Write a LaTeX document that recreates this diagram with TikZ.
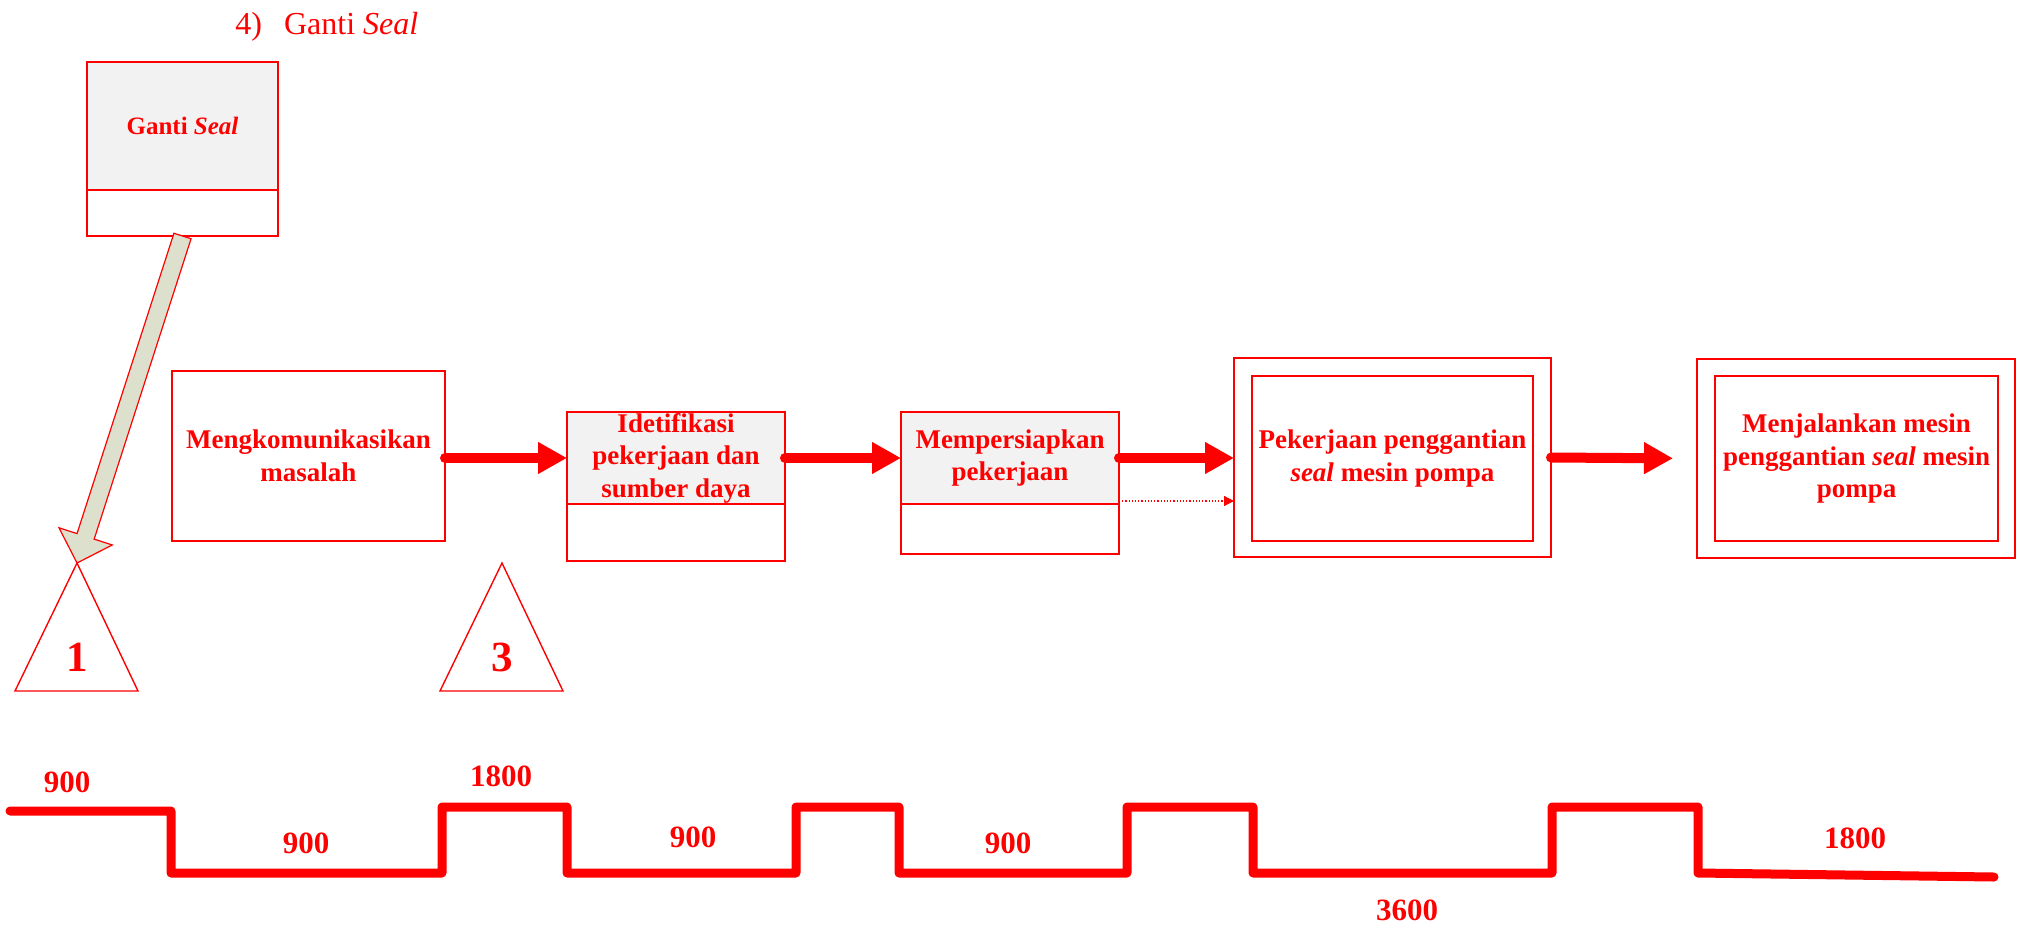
\documentclass[tikz,border=0pt]{standalone}
\usepackage{fontspec}
\setmainfont{Liberation Serif}
\usetikzlibrary{arrows.meta,calc}
\definecolor{pred}{RGB}{255,0,0}
\definecolor{boxgray}{RGB}{242,242,242}
\definecolor{olivefill}{RGB}{221,224,204}

\begin{document}
\begin{tikzpicture}[x=0.5pt,y=-0.5pt,
  redline/.style={draw=pred, line width=0.7pt},
  box/.style={redline, rectangle, inner sep=0pt, outer sep=0pt},
  headbox/.style={box, fill=boxgray},
  lbl/.style={text=pred, font=\fontsize{13.5}{16.3}\selectfont\bfseries, align=center},
  flow/.style={draw=pred, line width=5pt, line cap=round,
    -{Triangle[length=14.5pt,width=15pt]}},
  dotflow/.style={draw=pred, line width=0.6pt, densely dotted,
    -{Triangle[length=5pt,width=5pt]}},
  numlbl/.style={text=pred, font=\fontsize{21.5}{24}\selectfont\bfseries},
  steplbl/.style={text=pred, font=\fontsize{15.5}{18}\selectfont\bfseries},
  stepline/.style={draw=pred, line width=4.5pt, line cap=round, line join=round}
]
\useasboundingbox (0,0) rectangle (2018,927);

% heading
\node[anchor=base west, inner sep=0pt, text=pred, font=\fontsize{16}{20}\selectfont]
  (title) at (235,34) {4)\hspace{11pt}Ganti \textit{Seal}};

% Ganti Seal card
\node[headbox, minimum width=95.5pt, minimum height=64pt, lbl,
  font=\fontsize{12.5}{15}\selectfont\bfseries] (gantitop) at (182.5,126) {Ganti \textit{Seal}};
\node[box, anchor=north, minimum width=95.5pt, minimum height=23pt] (gantibot) at (gantitop.south) {};

% process boxes
\node[box, minimum width=136.5pt, minimum height=85pt, lbl] (mengk) at (308.5,456)
  {Mengkomunikasikan\\masalah};

\node[headbox, minimum width=109pt, minimum height=46pt, lbl] (idettop) at (676,458)
  {Idetifikasi\\pekerjaan dan\\sumber daya};
\node[box, anchor=north, minimum width=109pt, minimum height=28.5pt] (idetbot) at (idettop.south) {};

\node[headbox, minimum width=109pt, minimum height=46pt, lbl] (memptop) at (1010,458)
  {Mempersiapkan\\pekerjaan};
\node[box, anchor=north, minimum width=109pt, minimum height=25pt] (mempbot) at (memptop.south) {};

\node[box, minimum width=158.5pt, minimum height=99.5pt] (pekout) at (1392.5,457.5) {};
\node[box, minimum width=140.5pt, minimum height=82.5pt, lbl] (pekin) at (1392.5,458.5)
  {Pekerjaan penggantian\\\textit{seal} mesin pompa};

\node[box, minimum width=159pt, minimum height=99.5pt] (menjout) at (1856,458.5) {};
\node[box, minimum width=141.5pt, minimum height=82.5pt, lbl] (menjin) at (1856.5,458.5)
  {Menjalankan mesin\\penggantian \textit{seal} mesin\\pompa};

% flow arrows
\draw[flow] (mengk.east |- idettop.west) -- (idettop.west);
\draw[flow] (idettop.east) -- (memptop.west);
\draw[flow] (memptop.east) -- (memptop.east -| pekout.west);
\draw[flow, shorten >=12pt] (pekout.east) -- (menjout.west);

\coordinate (dotstart) at ([yshift=1.5pt]memptop.south east);
\draw[dotflow] (dotstart) -- (dotstart -| pekout.west);

% inventory triangles
\coordinate (tri1apex) at (77,563);
\coordinate (tri1l) at (15,691);
\coordinate (tri1r) at (138,691);
\draw[redline] (tri1apex) -- (tri1l) -- (tri1r) -- cycle;
\node[numlbl] (n1) at (77,657.5) {1};

\coordinate (tri3apex) at (502,563);
\coordinate (tri3l) at (440,691);
\coordinate (tri3r) at (563,691);
\draw[redline] (tri3apex) -- (tri3l) -- (tri3r) -- cycle;
\node[numlbl] (n3) at (502,657.5) {3};

% block arrow from the card down to triangle 1
\coordinate (tail) at (gantibot.south);
\coordinate (headbase) at ($(tri1apex)!14pt!(tail)$);
\filldraw[fill=olivefill, draw=pred, line width=0.6pt, line join=miter]
  ($(tail)!4.5pt!90:(tri1apex)$)
  -- ($(headbase)!4.5pt!90:(tri1apex)$)
  -- ($(headbase)!14pt!90:(tri1apex)$)
  -- (tri1apex)
  -- ($(headbase)!14pt!-90:(tri1apex)$)
  -- ($(headbase)!4.5pt!-90:(tri1apex)$)
  -- ($(tail)!4.5pt!-90:(tri1apex)$) -- cycle;

% timeline
\draw[stepline] (10,811) -- (171,811) -- (171,873) -- (442,873) -- (442,807)
  -- (567,807) -- (567,873) -- (796,873) -- (796,807) -- (899,807) -- (899,873)
  -- (1127,873) -- (1127,807) -- (1253,807) -- (1253,873) -- (1552,873)
  -- (1552,807) -- (1698,807) -- (1698,873) -- (1994,877);

\node[steplbl] (s1) at (67,782) {900};
\node[steplbl] (s2) at (306,843) {900};
\node[steplbl] (s3) at (501,776) {1800};
\node[steplbl] (s4) at (693,837) {900};
\node[steplbl] (s5) at (1008,843) {900};
\node[steplbl] (s6) at (1407,910) {3600};
\node[steplbl] (s7) at (1855,838) {1800};
\end{tikzpicture}
\end{document}
